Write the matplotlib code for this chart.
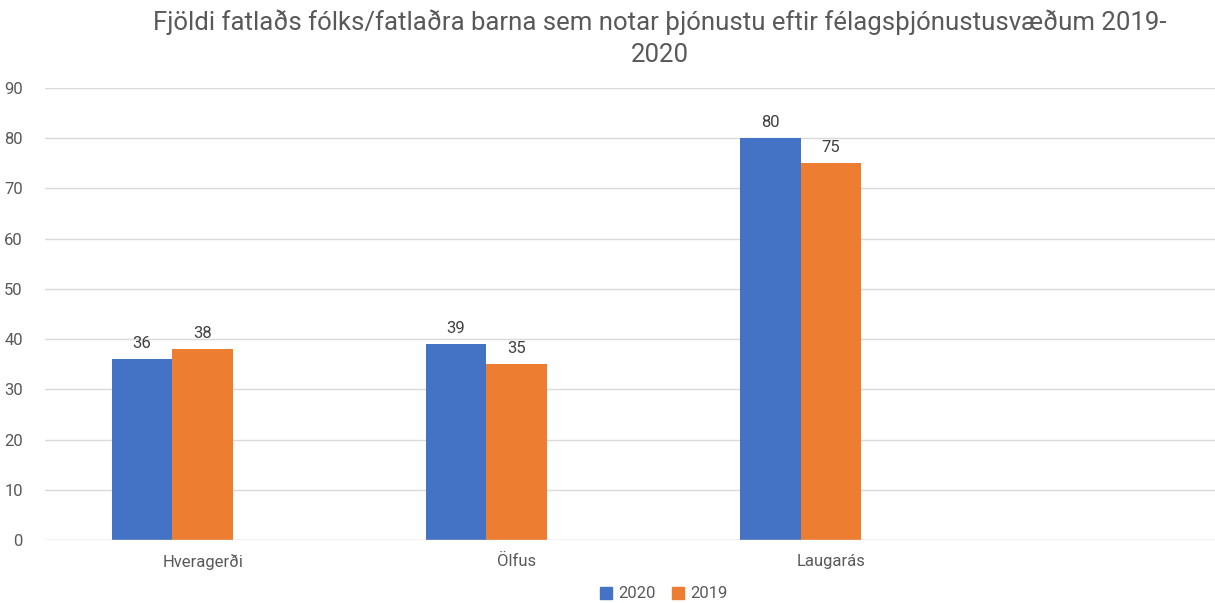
from matplotlib import pyplot as plt
from matplotlib.patches import Patch
import numpy as np

categories = ["Hveragerði", "Ölfus", "Laugarás"]
values_2020 = [36, 39, 80]
values_2019 = [38, 35, 75]
series_labels = ["2020", "2019"]
title = "Fjöldi fatlaðs fólks/fatlaðra barna sem notar þjónustu eftir félagsþjónustusvæðum 2019-\n2020"

plt.rcParams['font.family'] = ['Roboto', 'DejaVu Sans']
blue = '#4472C4'
orange = '#ED7D31'
grey = '#595959'

fig = plt.figure(figsize=(12.15, 6.03), dpi=100)
ax = fig.add_axes([45 / 1215, 63 / 603, 1 - 45 / 1215, 452 / 603])

# three bar slots per category in the original sheet, the third one is empty
x = np.arange(len(categories))
width = 0.194
bars1 = ax.bar(x - width, values_2020, width=width, color=blue, label=series_labels[0])
bars2 = ax.bar(x, values_2019, width=width, color=orange, label=series_labels[1])

for bars in (bars1, bars2):
    for b in bars:
        ax.annotate(str(int(b.get_height())), (b.get_x() + b.get_width() / 2, b.get_height()),
                    xytext=(0, 6), textcoords='offset points', ha='center', va='bottom',
                    fontsize=12, color='#404040')

ax.set_xlim(-0.503, 3.223)
ax.set_ylim(0, 90)
ax.set_yticks(np.arange(0, 91, 10))
ax.set_xticks(x)
ax.set_xticklabels(categories, fontsize=12, color=grey)
ax.tick_params(axis='y', labelsize=12, labelcolor=grey, length=0, pad=16)
ax.tick_params(axis='x', length=0, pad=10)
ax.grid(axis='y', color='#D9D9D9', linewidth=1)
ax.set_axisbelow(True)
for s in ax.spines.values():
    s.set_visible(False)
ax.axhline(0, color='#D9D9D9', linewidth=1)

fig.text(660 / 1215, 1 - 9 / 603, title, ha='center', va='top', fontsize=18.5,
         color=grey, linespacing=1.45)

handles = [Patch(color=blue), Patch(color=orange)]
fig.legend(handles, series_labels, loc='center', bbox_to_anchor=(664 / 1215, 1 - 594 / 603),
           ncol=2, frameon=False, fontsize=12, labelcolor=grey, handlelength=0.7,
           handleheight=0.7, handletextpad=0.4, columnspacing=1.0)

fig.savefig('out.png', dpi=100)
